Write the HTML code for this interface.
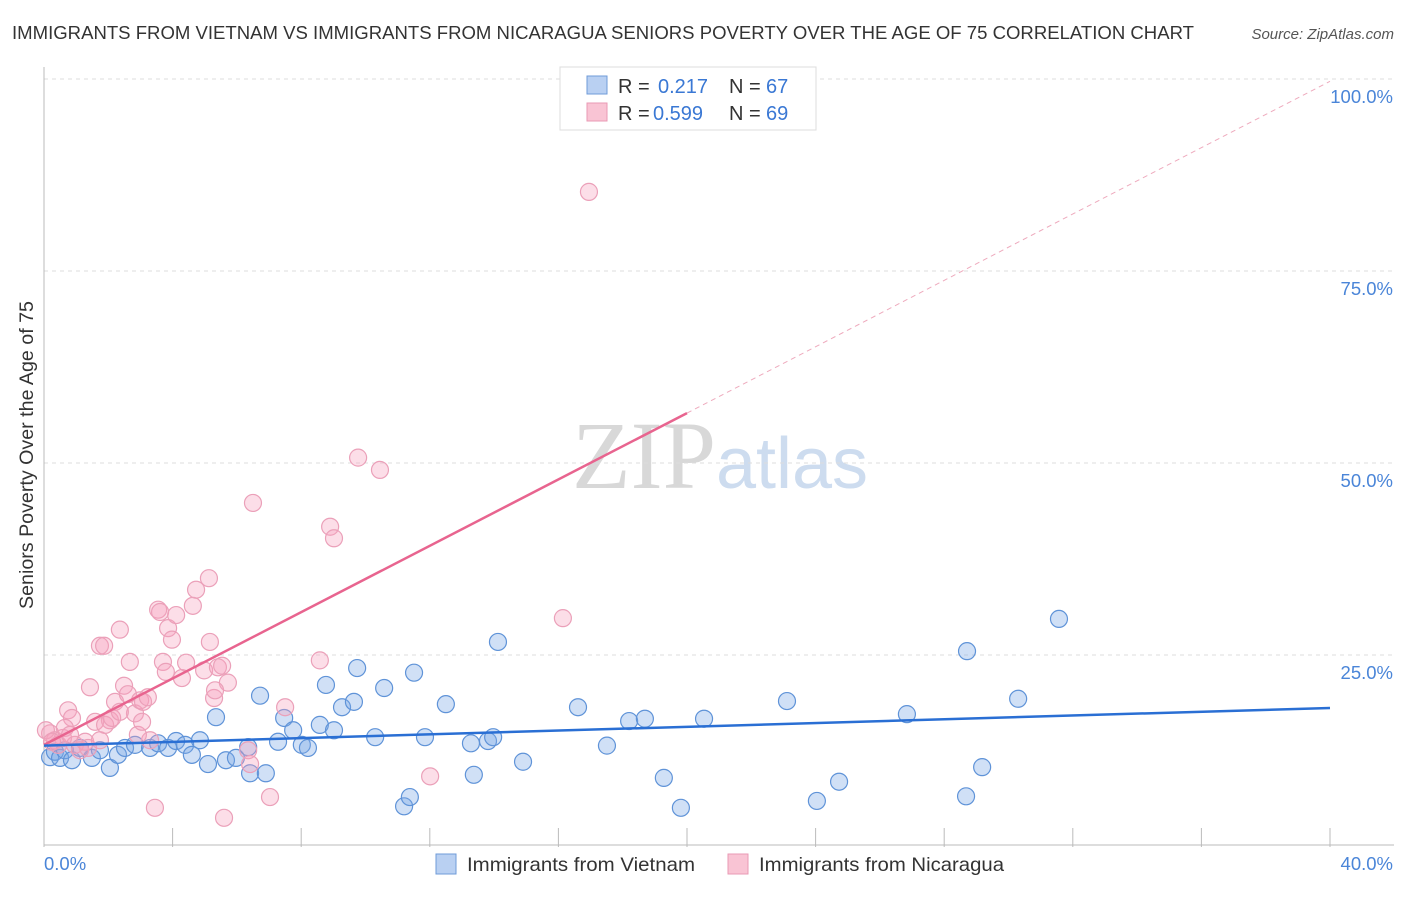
<!DOCTYPE html>
<html><head><meta charset="utf-8"><style>
body{margin:0;background:#fff;font-family:"Liberation Sans",sans-serif}
svg text{font-family:"Liberation Sans",sans-serif}
</style></head><body>
<svg id="chart" width="1406" height="892">
<text x="12" y="39" font-size="18" fill="#333" textLength="1182" lengthAdjust="spacingAndGlyphs">IMMIGRANTS FROM VIETNAM VS IMMIGRANTS FROM NICARAGUA SENIORS POVERTY OVER THE AGE OF 75 CORRELATION CHART</text>
<text x="1394" y="39" font-size="15" fill="#555" font-style="italic" text-anchor="end">Source: ZipAtlas.com</text>
<text x="720" y="488" font-size="96" fill="#ddd" text-anchor="middle" font-family="Liberation Serif"><tspan fill="#d8d8d8" font-family="Liberation Serif">ZIP</tspan><tspan fill="#cddcef" font-family="Liberation Sans" font-size="72">atlas</tspan></text>
<text transform="translate(33,455) rotate(-90)" font-size="19" fill="#333" text-anchor="middle" textLength="308" lengthAdjust="spacingAndGlyphs">Seniors Poverty Over the Age of 75</text>
<g id="grid"></g><g id="pts"></g><g id="lines"></g>
<g>
<rect x="560" y="67" width="256" height="63" fill="#fff" stroke="#ddd"/>
<rect x="587" y="76" width="20" height="18" fill="#b9d0f2" stroke="#6f9bd8"/>
<rect x="587" y="103" width="20" height="18" fill="#f9c4d4" stroke="#e99ab4"/>
<text x="618" y="93" font-size="20" fill="#333">R = <tspan x="658" fill="#3a78d4">0.217</tspan><tspan x="729">N = </tspan><tspan x="766" fill="#3a78d4">67</tspan></text>
<text x="618" y="120" font-size="20" fill="#333">R = <tspan x="653" fill="#3a78d4">0.599</tspan><tspan x="729">N = </tspan><tspan x="766" fill="#3a78d4">69</tspan></text>
</g>
<g>
<rect x="436" y="854" width="20" height="20" fill="#b9d0f2" stroke="#6f9bd8"/>
<text x="467" y="871" font-size="19.5" fill="#333" textLength="228" lengthAdjust="spacingAndGlyphs">Immigrants from Vietnam</text>
<rect x="728" y="854" width="20" height="20" fill="#f9c4d4" stroke="#e99ab4"/>
<text x="759" y="871" font-size="19.5" fill="#333" textLength="245" lengthAdjust="spacingAndGlyphs">Immigrants from Nicaragua</text>
</g>
</svg>
<script>
const blueX=[0.19,0.34,0.50,0.65,0.87,1.12,1.49,1.74,2.05,2.30,2.52,2.83,3.30,3.55,3.86,4.11,4.39,4.60,4.85,5.10,5.35,5.66,5.97,6.35,6.41,6.72,6.90,7.28,7.47,7.75,8.02,8.21,8.58,8.77,9.02,9.27,9.64,9.74,10.30,10.58,11.20,11.38,11.51,11.85,12.50,13.28,13.37,13.81,13.97,14.12,14.90,16.61,17.51,18.20,18.69,19.28,19.81,20.53,23.11,24.04,24.73,26.84,28.68,28.71,29.18,30.30,31.57];
const blueY=[11.7,12.4,11.6,12.6,11.3,12.9,11.6,12.6,10.3,12.0,12.9,13.3,12.9,13.5,12.9,13.8,13.3,12.0,13.9,10.8,16.9,11.3,11.6,13.0,9.6,19.7,9.6,13.7,16.8,15.2,13.3,12.9,15.9,21.1,15.2,18.2,18.9,23.3,14.3,20.7,5.3,6.5,22.7,14.3,18.6,13.5,9.4,13.8,14.3,26.7,11.1,18.2,13.2,16.4,16.7,9.0,5.1,16.7,19.0,6.0,8.5,17.3,6.6,25.5,10.4,19.3,29.7];
const pinkX=[0.19,0.34,0.44,0.59,0.75,0.87,0.96,1.12,1.28,1.43,1.59,1.74,1.87,2.05,2.21,2.36,2.49,2.61,2.67,2.83,2.99,3.08,3.23,3.30,3.45,3.55,3.61,3.70,3.79,3.86,3.98,4.11,4.29,4.42,4.63,4.73,4.98,5.13,5.16,5.29,5.41,5.54,5.60,5.72,6.35,6.41,6.50,7.03,7.50,8.58,8.90,9.02,9.77,10.45,12.01,16.14,16.95,0.06,0.25,0.65,1.37,1.90,2.12,2.92,3.05,1.74,0.81,2.36,5.32];
const pinkY=[14.8,13.9,13.3,14.2,17.8,16.8,13.3,12.6,13.7,20.8,16.3,26.2,26.2,16.5,18.9,28.3,21.0,19.9,24.1,17.4,19.1,18.9,19.5,13.9,5.1,30.9,30.6,24.1,22.8,28.5,27.0,30.2,22.0,24.0,31.4,33.5,23.0,35.0,26.7,19.4,23.4,23.6,3.8,21.4,12.6,10.8,44.8,6.5,18.2,24.3,41.7,40.2,50.7,49.1,9.2,29.8,85.3,15.2,13.7,15.5,12.9,15.9,16.8,14.6,16.3,13.9,14.6,17.6,20.4];
const yTicks=[25,50,75,100];
const yTickLabels=["25.0%","50.0%","75.0%","100.0%"];
const xTicks=[0,4,8,12,16,20,24,28,32,36,40];
const pinkFit=[13.3,56.5,99.7];
const blueFit=[13.2,18.1];
const NS="http://www.w3.org/2000/svg";
const X0=44,X1=1330,Y0=847,Y1=79;
const sx=v=>X0+(X1-X0)*v/40, sy=v=>Y0-(Y0-Y1)*v/100;
function mk(t,a,p){const e=document.createElementNS(NS,t);for(const k in a)e.setAttribute(k,a[k]);p.appendChild(e);return e;}
const g=document.getElementById('grid');
yTicks.forEach((t,i)=>{
 const l=mk('line',{x1:X0,x2:1394,y1:sy(t),y2:sy(t),stroke:'#ddd','stroke-dasharray':'4,4'},g);
 
 
 const tx=mk('text',{x:1393,y:sy(t)+24,'font-size':18.5,fill:'#4a85d8','text-anchor':'end'},g);
 tx.textContent=yTickLabels[i];
 
 
});
const ax=mk('line',{x1:X0,x2:X0,y1:67,y2:Y0,stroke:'#bbb'},g);


const bx=mk('line',{x1:X0,x2:1394,y1:Y0-2,y2:Y0-2,stroke:'#bbb'},g);


xTicks.forEach(t=>{const l=mk('line',{x1:sx(t),x2:sx(t),y1:828,y2:Y0,stroke:'#bbb'},g);
 
 });
const xl=mk('text',{x:44,y:870,'font-size':18.5,fill:'#4a85d8'},g);xl.textContent='0.0%';


const xr=mk('text',{x:1393,y:870,'font-size':18.5,fill:'#4a85d8','text-anchor':'end'},g);xr.textContent='40.0%';


const P=document.getElementById('pts');
blueX.forEach((x,i)=>{const c=mk('circle',{cx:sx(x),cy:sy(blueY[i]),r:8.5,fill:'rgba(120,165,230,0.35)',stroke:'#5f93d8','stroke-width':1.2},P);
 
 });
pinkX.forEach((x,i)=>{const c=mk('circle',{cx:sx(x),cy:sy(pinkY[i]),r:8.5,fill:'rgba(245,160,188,0.35)',stroke:'#eba0b9','stroke-width':1.2},P);
 
 });
const L=document.getElementById('lines');
const p1=mk('line',{x1:sx(0),y1:sy(pinkFit[0]),x2:sx(20),y2:sy(pinkFit[1]),stroke:'#e8648f','stroke-width':2.5},L);


const p2=mk('line',{x1:sx(20),y1:sy(pinkFit[1]),x2:sx(40),y2:sy(pinkFit[2]),stroke:'#eeaabd','stroke-width':1,'stroke-dasharray':'5,4'},L);


const b1=mk('line',{x1:sx(0),y1:sy(blueFit[0]),x2:sx(40),y2:sy(blueFit[1]),stroke:'#2a6fd4','stroke-width':2.5},L);


</script>
</body></html>
